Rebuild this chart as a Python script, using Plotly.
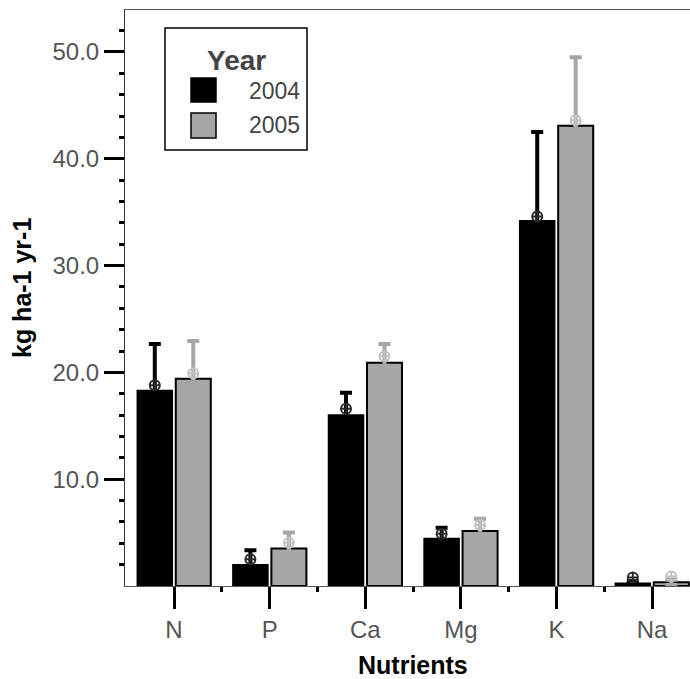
import plotly.graph_objects as go

# ---------------- data ----------------
nutrients = ["N", "P", "Ca", "Mg", "K", "Na"]
years = ["2004", "2005"]
bar_2004 = [18.3, 2.0, 16.0, 4.45, 34.2, 0.25]
bar_2005 = [19.4, 3.5, 20.9, 5.15, 43.1, 0.35]
err_2004 = [4.35, 1.35, 2.1, 1.0, 8.3, 0.2]
err_2005 = [3.55, 1.5, 1.75, 1.15, 6.4, 0.25]
mean_2004 = [18.8, 2.5, 16.6, 4.9, 34.6, 0.8]
mean_2005 = [19.9, 4.05, 21.5, 5.7, 43.6, 0.9]
y_major = [10, 20, 30, 40, 50]
y_major_text = ["10.0", "20.0", "30.0", "40.0", "50.0"]

# ---------------- style ----------------
FONT = "Liberation Sans, Arial, sans-serif"
BLACK = "#000000"
GRAY = "#a6a6a6"
W, H = 690, 679
ML, MR, MT, MB = 125, 0, 10, 93
PW, PH = W - ML - MR, H - MT - MB
BARGAP = 0.195
GROUPGAP = 0.09

xpos = list(range(len(nutrients)))
slot = (1 - BARGAP) / 2
off = slot / 2

fig = go.Figure()
fig.add_trace(go.Bar(
    x=xpos, y=bar_2004, name=years[0],
    marker=dict(color=BLACK, line=dict(color=BLACK, width=1.5)),
    error_y=dict(type="data", array=err_2004, symmetric=True,
                 color=BLACK, thickness=4, width=6),
))
fig.add_trace(go.Bar(
    x=xpos, y=bar_2005, name=years[1],
    marker=dict(color=GRAY, line=dict(color=BLACK, width=2)),
    error_y=dict(type="data", array=err_2005, symmetric=True,
                 color=GRAY, thickness=4, width=6),
))
fig.add_trace(go.Scatter(
    x=[v - off for v in xpos], y=mean_2004, mode="markers",
    marker=dict(symbol="circle-cross-open", size=10, color="#2a2a2a",
                line=dict(width=2, color="#2a2a2a")),
    showlegend=False, hoverinfo="skip",
))
fig.add_trace(go.Scatter(
    x=[v + off for v in xpos], y=mean_2005, mode="markers",
    marker=dict(symbol="circle-cross-open", size=10, color="#c2c2c2",
                line=dict(width=2, color="#c2c2c2")),
    showlegend=False, hoverinfo="skip",
))

y_minor = [v for v in range(2, 54, 2) if v % 10 != 0]
x_minor = [v + 0.5 for v in xpos[:-1]]


def px_x(px):
    return (px - ML) / PW


def px_y(py):
    return (H - MB - py) / PH


# ---------------- manual legend ----------------
shapes = [
    dict(type="rect", xref="paper", yref="paper",
         x0=px_x(165), x1=px_x(307), y0=px_y(150), y1=px_y(28),
         line=dict(color=BLACK, width=1.5), fillcolor="white", layer="above"),
    dict(type="rect", xref="paper", yref="paper",
         x0=px_x(191), x1=px_x(216), y0=px_y(102), y1=px_y(78),
         line=dict(color=BLACK, width=1.5), fillcolor=BLACK, layer="above"),
    dict(type="rect", xref="paper", yref="paper",
         x0=px_x(191), x1=px_x(216), y0=px_y(138), y1=px_y(113),
         line=dict(color=BLACK, width=1.5), fillcolor=GRAY, layer="above"),
]
annotations = [
    dict(text="<b>Year</b>", xref="paper", yref="paper", x=px_x(236), y=px_y(60),
         xanchor="center", yanchor="middle", showarrow=False,
         font=dict(family=FONT, size=28, color="#444444")),
    dict(text=years[0], xref="paper", yref="paper", x=px_x(302), y=px_y(91),
         xanchor="right", yanchor="middle", showarrow=False,
         font=dict(family=FONT, size=23, color="#444444")),
    dict(text=years[1], xref="paper", yref="paper", x=px_x(302), y=px_y(125),
         xanchor="right", yanchor="middle", showarrow=False,
         font=dict(family=FONT, size=23, color="#444444")),
    dict(text="<b>Nutrients</b>", xref="paper", yref="paper", x=px_x(413), y=px_y(665),
         xanchor="center", yanchor="middle", showarrow=False,
         font=dict(family=FONT, size=25, color=BLACK)),
    dict(text="<b>kg ha-1 yr-1</b>", xref="paper", yref="paper", x=px_x(22), y=px_y(288),
         xanchor="center", yanchor="middle", showarrow=False, textangle=-90,
         font=dict(family=FONT, size=25, color=BLACK)),
]

fig.update_layout(
    width=W, height=H,
    margin=dict(l=ML, r=MR, t=MT, b=MB, pad=0),
    paper_bgcolor="white", plot_bgcolor="white",
    barmode="group", bargap=BARGAP, bargroupgap=GROUPGAP,
    showlegend=False,
    font=dict(family=FONT, color="#555555"),
    shapes=shapes, annotations=annotations,
    xaxis=dict(
        range=[-0.513, 5.397], showgrid=False, zeroline=False,
        tickmode="array", tickvals=xpos, ticktext=nutrients,
        ticks="outside", ticklen=22, tickwidth=3, tickcolor=BLACK,
        tickfont=dict(family=FONT, size=24, color="#555555"),
        showline=True, linecolor="#555555", linewidth=1, mirror=True,
        minor=dict(tickvals=x_minor, ticks="outside", ticklen=5,
                   tickwidth=3, tickcolor=BLACK),
    ),
    yaxis=dict(
        range=[0, 53.93], showgrid=False, zeroline=False,
        tickmode="array", tickvals=y_major, ticktext=y_major_text,
        ticks="outside", ticklen=20, tickwidth=3, tickcolor=BLACK,
        tickfont=dict(family=FONT, size=24, color="#555555"),
        showline=True, linecolor="#333333", linewidth=1,
        minor=dict(tickvals=y_minor, ticks="outside", ticklen=5,
                   tickwidth=3, tickcolor=BLACK),
    ),
)

fig.write_html("out.html")
